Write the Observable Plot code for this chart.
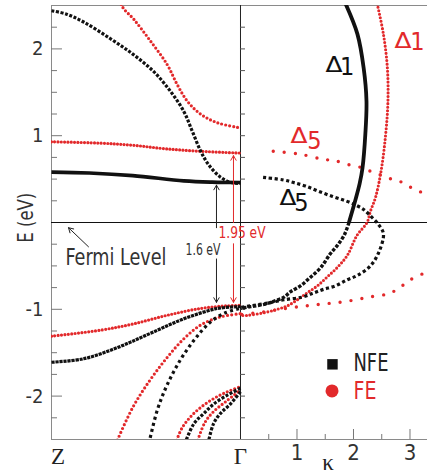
<!DOCTYPE html>
<html><head><meta charset="utf-8">
<script src="https://cdn.jsdelivr.net/npm/d3@7"></script>
<script src="https://cdn.jsdelivr.net/npm/@observablehq/plot@0.6"></script>
<style>
html,body{margin:0;padding:0;background:#fff;}
#chart{width:427px;height:476px;}
</style></head><body><div id="chart"></div>
<script>
// ---------- DATA ----------
// Z–Γ panel: [k (0 = Z, 1 = Γ), E (eV)]
const nfeZG_c1 = [[0,2.44],[0.08,2.40],[0.17,2.31],[0.31,2.12],[0.43,1.94],[0.54,1.74],[0.63,1.51],[0.70,1.28],[0.745,1.05],[0.79,0.82],[0.83,0.67],[0.89,0.53],[0.95,0.46],[1.0,0.45]];
const nfeZG_c2 = [[0,0.58],[0.2,0.57],[0.43,0.54],[0.7,0.48],[0.85,0.465],[1.0,0.46]];
const feZG_c1 = [[0.355,2.65],[0.374,2.49],[0.436,2.34],[0.524,2.09],[0.612,1.82],[0.665,1.59],[0.718,1.40],[0.788,1.25],[0.877,1.15],[1.0,1.09]];
const feZG_c2 = [[0,0.93],[0.25,0.915],[0.43,0.89],[0.6,0.85],[0.79,0.82],[1.0,0.80]];
const nfeZG_v1 = [[0,-1.61],[0.17,-1.57],[0.35,-1.44],[0.52,-1.28],[0.70,-1.11],[0.88,-0.99],[1.0,-0.97]];
const feZG_v1 = [[0,-1.31],[0.26,-1.24],[0.43,-1.17],[0.61,-1.07],[0.79,-0.99],[0.93,-0.96],[1.0,-0.955]];
const feZG_v2 = [[0.34,-2.55],[0.43,-2.13],[0.52,-1.82],[0.61,-1.56],[0.70,-1.34],[0.79,-1.18],[0.89,-1.09],[1.0,-1.05]];
const nfeZG_v2 = [[0.515,-2.55],[0.56,-2.16],[0.61,-1.88],[0.68,-1.59],[0.76,-1.34],[0.84,-1.15],[0.92,-1.04],[1.0,-0.99]];
const feZG_b1 = [[0.655,-2.55],[0.69,-2.37],[0.735,-2.24],[0.79,-2.13],[0.857,-2.03],[0.93,-1.95],[1.0,-1.89]];
const nfeZG_b1 = [[0.705,-2.55],[0.753,-2.32],[0.806,-2.20],[0.859,-2.09],[0.93,-1.99],[1.0,-1.91]];
const feZG_b2 = [[0.768,-2.55],[0.81,-2.31],[0.857,-2.18],[0.93,-2.05],[1.0,-1.93]];
const nfeZG_b2 = [[0.828,-2.55],[0.857,-2.32],[0.894,-2.20],[0.947,-2.09],[1.0,-1.95]];

// Γ–κ panel: [κ, E (eV)]
const nfeDelta1Up = [[1.86,2.52],[2.07,2.17],[2.18,1.78],[2.23,1.40],[2.21,1.02],[2.16,0.63],[2.11,0.45],[2.03,0.25],[1.92,0.0]];
const nfeDelta1Low = [[1.92,0.0],[1.84,-0.14],[1.72,-0.26],[1.59,-0.36],[1.42,-0.52],[1.24,-0.63],[1.06,-0.73],[0.88,-0.80],[0.77,-0.86],[0.62,-0.90],[0.44,-0.94],[0.18,-0.97],[0,-0.99]];
const nfeDelta5 = [[0.40,0.52],[0.76,0.49],[0.94,0.46],[1.15,0.42],[1.38,0.36],[1.63,0.30],[1.86,0.25],[2.04,0.20],[2.18,0.15],[2.28,0.09],[2.44,-0.02],[2.53,-0.13],[2.45,-0.34],[2.30,-0.50],[2.07,-0.61],[1.89,-0.66],[1.68,-0.73],[1.47,-0.77],[1.30,-0.81],[1.09,-0.86],[0.77,-0.89],[0.55,-0.92],[0.18,-0.96],[0,-0.98]];
const feDelta1 = [[2.42,2.52],[2.53,2.17],[2.60,1.78],[2.61,1.40],[2.57,1.02],[2.49,0.60],[2.39,0.29],[2.30,0.13],[2.24,0.0],[2.06,-0.15],[1.89,-0.38],[1.71,-0.52],[1.53,-0.63],[1.36,-0.73],[1.18,-0.81],[1.03,-0.88],[0.83,-0.96],[0.65,-1.0],[0.41,-1.04],[0.12,-1.07],[0,-1.07]];
const feDelta5 = [[0.58,0.82],[1.03,0.79],[1.45,0.73],[1.68,0.71],[1.95,0.66],[2.16,0.63],[2.30,0.59],[2.44,0.56],[2.62,0.51],[2.80,0.48],[2.97,0.42],[3.15,0.36],[3.31,0.33],[3.6,0.15],[3.75,-0.1],[3.6,-0.42],[3.31,-0.56],[2.98,-0.67],[2.80,-0.76],[2.62,-0.82],[2.27,-0.86],[1.86,-0.91],[1.45,-0.94],[1.03,-0.97],[0.6,-1.01],[0.3,-1.04],[0,-1.06]];

// ticks and labels
const yTickLabels = [-2, -1, 1, 2];
const yMajorTicks = [-2, -1, 1, 2];
const yMinorTicks = [-2.25,-1.75,-1.5,-1.25,-0.75,-0.5,-0.25,0.25,0.5,0.75,1.25,1.5,1.75,2.25];
const gammaTicks = [-2.25,-2,-1.75,-1.5,-1.25,-1,-0.75,-0.5,-0.25,0.25,0.5,0.75,1,1.25,1.5,1.75,2,2.25];
const xTickLabels = [1, 2, 3];
const xMinorTicks = [0.5, 1.5, 2.5];
const legendLabels = ["NFE", "FE"];

// ---------- CHART ----------
const RED = "#e2292b";
const BLK = "#111";
const SANS = "'Liberation Sans Narrow','Arial Narrow','DejaVu Sans Condensed',sans-serif";
const SERIF = "'Liberation Serif','DejaVu Serif',serif";
const LW = 3.345;               // width of the Z–Γ panel in κ units
const PX = 1 / 56.5, PY = 1 / 86.8;
const toX = k => (k - 1) * LW;

function band(data, left, color, dash, width = 3.2) {
  return Plot.line(data, {
    x: left ? d => toX(d[0]) : d => d[0],
    y: d => d[1],
    stroke: color, strokeWidth: width,
    strokeDasharray: dash,
    strokeLinecap: color === RED ? "round" : "butt",
    curve: "catmull-rom", clip: true
  });
}

const chart = Plot.plot({
  width: 427, height: 476,
  marginLeft: 51, marginRight: 0, marginTop: 5, marginBottom: 37,
  x: {domain: [-LW, 3.31], axis: null},
  y: {domain: [-2.5, 2.5], axis: null},
  style: {fontFamily: SANS, background: "#fff", overflow: "visible"},
  marks: [
    // frame
    Plot.ruleY([2.5], {stroke: "#8a8a8a"}),
    Plot.ruleY([-2.5], {stroke: "#8a8a8a"}),
    Plot.ruleX([-LW], {stroke: "#8a8a8a"}),
    Plot.ruleX([0], {stroke: "#222"}),
    Plot.ruleY([0], {stroke: "#111"}),
    // ticks
    Plot.ruleY(yMajorTicks, {x1: -LW, x2: -LW + 11 * PX, stroke: "#777"}),
    Plot.ruleY(yMinorTicks, {x1: -LW, x2: -LW + 6 * PX, stroke: "#777"}),
    Plot.ruleY(gammaTicks, {x1: 0, x2: 5 * PX, stroke: "#555"}),
    Plot.ruleX(xTickLabels, {y1: -2.5, y2: -2.5 + 10 * PY, stroke: "#777"}),
    Plot.ruleX(xMinorTicks, {y1: -2.5, y2: -2.5 + 5 * PY, stroke: "#777"}),
    // tick labels
    Plot.text(yTickLabels, {x: -LW, y: d => d, text: d => String(d), textAnchor: "end", dx: -8, fontSize: 20, fill: "#333"}),
    Plot.text(xTickLabels, {x: d => d, y: -2.5, text: d => String(d), dy: 13, fontSize: 22, fill: "#333"}),
    Plot.text(["Z"], {x: -LW, y: -2.5, dx: 6.5, dy: 17, fontFamily: SERIF, fontSize: 23, fill: "#222"}),
    Plot.text(["Γ"], {x: 0, y: -2.5, dy: 17, fontFamily: SERIF, fontSize: 23, fill: "#222"}),
    Plot.text(["κ"], {x: 1.55, y: -2.5, dy: 23, fontFamily: SERIF, fontSize: 23, fill: "#222"}),
    Plot.text(["E (eV)"], {x: -LW, y: 0.055, dx: -25.7, rotate: -90, fontSize: 21, fill: "#333"}),
    // Z–Γ bands
    band(feZG_c1, true, RED, "0,4"),
    band(feZG_c2, true, RED, "0,3.3"),
    band(nfeZG_c1, true, BLK, "3,1.6"),
    band(nfeZG_c2, true, BLK, null, 3.6),
    band(feZG_v1, true, RED, "0,3.4"),
    band(feZG_v2, true, RED, "0,4.2"),
    band(nfeZG_v1, true, BLK, "3.2,0.8"),
    band(nfeZG_v2, true, BLK, "3,3.2"),
    band(feZG_b1, true, RED, "0,4"),
    band(feZG_b2, true, RED, "0,4"),
    band(nfeZG_b1, true, BLK, "3,1.6"),
    band(nfeZG_b2, true, BLK, "3,1.6"),
    // Γ–κ bands
    band(feDelta5, false, RED, "0,11", 3.4),
    band(feDelta1, false, RED, "0,3.6", 3.1),
    band(nfeDelta5, false, BLK, "3.2,2.6"),
    band(nfeDelta1Up, false, BLK, null, 3.8),
    band(nfeDelta1Low, false, BLK, "3.4,1.6", 3.4),
    // Δ labels
    Plot.text(["Δ"], {x: 1.655, y: 1.85, dy: 3, fontSize: 21, fill: BLK}),
    Plot.text(["1"], {x: 1.89, y: 1.79, fontSize: 25, fill: BLK}),
    Plot.text(["Δ"], {x: 2.876, y: 2.12, dy: 3, fontSize: 21, fill: RED}),
    Plot.text(["1"], {x: 3.13, y: 2.08, fontSize: 25, fill: RED}),
    Plot.text(["Δ"], {x: 1.035, y: 1.03, dy: 3, fontSize: 21, fill: RED}),
    Plot.text(["5"], {x: 1.31, y: 0.94, fontSize: 25, fill: RED}),
    Plot.text(["Δ"], {x: 0.84, y: 0.31, dy: 3, fontSize: 21, fill: BLK}),
    Plot.text(["5"], {x: 1.08, y: 0.23, fontSize: 25, fill: BLK}),
    // Fermi level annotation
    Plot.text(["Fermi Level"], {x: -LW, y: -0.407, dx: 14, textAnchor: "start", fontSize: 23, fill: "#333"}),
    Plot.arrow([0], {x1: -2.69, y1: -0.28, x2: -3.044, y2: -0.06, stroke: "#222", strokeWidth: 1, headLength: 8}),
    // gap arrows
    Plot.arrow([0], {x1: -0.425, y1: -0.06, x2: -0.425, y2: 0.43, stroke: "#222", strokeWidth: 1, headLength: 8}),
    Plot.arrow([0], {x1: -0.425, y1: -0.42, x2: -0.425, y2: -0.92, stroke: "#222", strokeWidth: 1, headLength: 8}),
    Plot.text(["1.6 eV"], {x: -0.664, y: -0.315, fontSize: 15, fill: "#333"}),
    Plot.arrow([0], {x1: -0.124, y1: 0.0, x2: -0.124, y2: 0.77, stroke: RED, strokeWidth: 1, headLength: 8}),
    Plot.arrow([0], {x1: -0.124, y1: -0.245, x2: -0.124, y2: -0.92, stroke: RED, strokeWidth: 1, headLength: 8}),
    Plot.text(["1.95 eV"], {x: -0.389, y: -0.125, textAnchor: "start", fontSize: 15, fill: RED}),
    // legend
    Plot.dot([legendLabels[0]], {x: 1.628, y: -1.634, symbol: "square", r: 5.9, fill: BLK}),
    Plot.dot([legendLabels[1]], {x: 1.62, y: -1.94, symbol: "circle", r: 6.5, fill: RED}),
    Plot.text([legendLabels[0]], {x: 2.0, y: -1.62, textAnchor: "start", fontSize: 24, fill: "#222"}),
    Plot.text([legendLabels[1]], {x: 2.0, y: -1.94, textAnchor: "start", fontSize: 24, fill: RED})
  ]
});

// condense text to the reference's narrow face (widths in px)
const textWidths = {"Fermi Level": 101, "1.6 eV": 35, "1.95 eV": 47, "NFE": 35, "FE": 23, "E (eV)": 50, "Δ": 17};
chart.querySelectorAll("text").forEach(t => {
  const w = textWidths[t.textContent];
  if (w) { t.setAttribute("textLength", w); t.setAttribute("lengthAdjust", "spacingAndGlyphs"); }
});
document.getElementById("chart").appendChild(chart);
</script></body></html>
